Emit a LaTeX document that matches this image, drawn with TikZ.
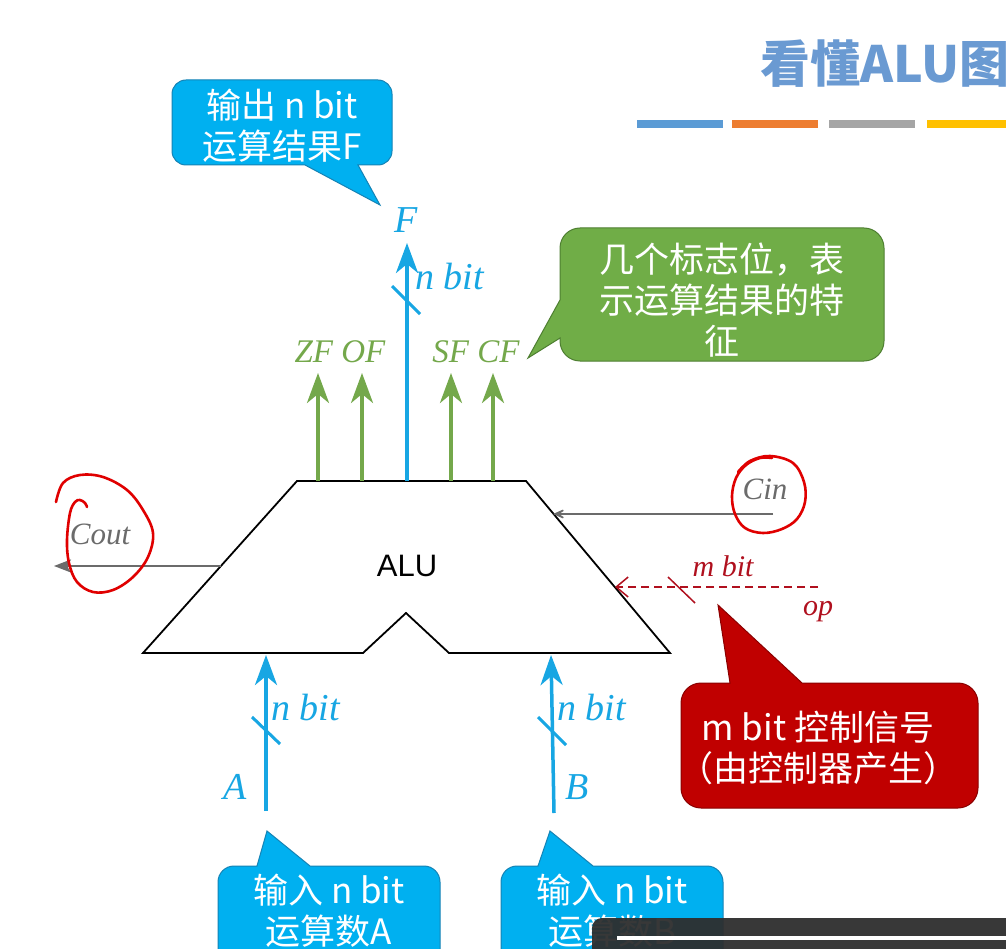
\documentclass[tikz,border=0pt]{standalone}
\usepackage{fontspec}
\setmainfont{Liberation Serif}
\newfontfamily\cjk{Noto Sans CJK SC}
\newfontfamily\lsans{Liberation Sans}
\usetikzlibrary{arrows.meta}

\definecolor{busblue}{HTML}{17A6E3}
\definecolor{calloutblue}{HTML}{00B0F0}
\definecolor{calloutblueedge}{HTML}{1583B5}
\definecolor{flaggreen}{HTML}{74A84B}
\definecolor{calloutgreen}{HTML}{70AD47}
\definecolor{calloutgreenedge}{HTML}{4E7F31}
\definecolor{ctrlred}{HTML}{C00000}
\definecolor{ctrlrededge}{HTML}{8A0000}
\definecolor{oplabel}{HTML}{B0101E}
\definecolor{carrygray}{HTML}{6B6B6B}
\definecolor{inkred}{HTML}{E00000}
\definecolor{titleblue}{HTML}{6A9AD2}
\definecolor{barblue}{HTML}{5B9BD5}
\definecolor{barorange}{HTML}{ED7D31}
\definecolor{bargray}{HTML}{A5A5A5}
\definecolor{baryellow}{HTML}{FFC000}

\begin{document}
\begin{tikzpicture}[x=1pt,y=-1pt,
  bus/.style={busblue, line width=3.5pt, -{Stealth[length=30pt,width=22pt,inset=9pt]}},
  flag/.style={flaggreen, line width=3.5pt, -{Stealth[length=30pt,width=22pt,inset=9pt]}},
  slashmark/.style={line width=3pt},
  buslabel/.style={text=busblue, font=\fontsize{38}{38}\selectfont\itshape, inner sep=0pt},
  flaglabel/.style={text=flaggreen, font=\fontsize{33}{33}\selectfont\itshape, inner sep=0pt},
  carry/.style={carrygray, line width=2pt},
  carrylabel/.style={text=carrygray, font=\fontsize{31}{31}\selectfont\itshape, inner sep=0pt},
  oplab/.style={text=oplabel, font=\fontsize{30}{30}\selectfont\itshape, inner sep=0pt},
  calltext/.style={text=white, font=\cjk\fontsize{35}{41}\selectfont, align=center, inner sep=0pt},
  bluecall/.style={fill=calloutblue, draw=calloutblueedge, line width=1pt},
  greencall/.style={fill=calloutgreen, draw=calloutgreenedge, line width=1pt},
  redcall/.style={fill=ctrlred, draw=ctrlrededge, line width=1pt},
  ink/.style={inkred, line width=2.6pt, line cap=round, line join=round},
]
\clip (0,0) rectangle (1006,949);
\fill[white] (0,0) rectangle (1006,949);

% heading and colour strip
\node[anchor=west, text=titleblue, font=\cjk\bfseries\fontsize{50}{50}\selectfont, inner sep=0pt] (title) at (760,64) {看懂ALU图};
\fill[barblue]   (637,120) rectangle (723,128);
\fill[barorange] (732,120) rectangle (818,128);
\fill[bargray]   (829,120) rectangle (915,128);
\fill[baryellow] (927,120) rectangle (1006,128);

% ALU body with the notch between the two operand inputs
\draw[line width=1.8pt, fill=white] (297,481) -- (526,481) -- (670,653) -- (449,653) -- (406,613) -- (363,653) -- (143,653) -- cycle;
\node[font=\lsans\fontsize{31}{31}\selectfont, inner sep=0pt] (alu) at (407,566) {ALU};

% ports on the ALU outline
\coordinate (zfport) at (318,481);
\coordinate (ofport) at (362,481);
\coordinate (fport)  at (407,481);
\coordinate (sfport) at (451,481);
\coordinate (cfport) at (493,481);
\coordinate (aport)  at (266,655);
\coordinate (bport)  at (551,655);
\coordinate (coutport) at (221,566);
\coordinate (cinport)  at (553,514);
\coordinate (opport)   at (615,587);

% free ends of the signals
\coordinate (ftip)  at (407,243);
\coordinate (zftip) at (318,373);
\coordinate (oftip) at (362,373);
\coordinate (sftip) at (451,373);
\coordinate (cftip) at (493,373);
\coordinate (asrc)  at (266,811);
\coordinate (bsrc)  at (554,813);
\coordinate (coutend) at (54,566);
\coordinate (cinsrc)  at (773,514);
\coordinate (opsrc)   at (818,587);

% result bus and flags
\draw[bus] (fport) -- (ftip);
\draw[busblue, slashmark] (392,286) -- (420,314);
\node[buslabel] (flabel) at (406,220) {F};
\node[buslabel, anchor=west] (fwidth) at (415,277) {n bit};

\draw[flag] (zfport) -- (zftip);
\draw[flag] (ofport) -- (oftip);
\draw[flag] (sfport) -- (sftip);
\draw[flag] (cfport) -- (cftip);
\node[flaglabel] (zfof) at (340,352) {ZF OF};
\node[flaglabel] (sfcf) at (476,352) {SF CF};

% operand buses
\draw[bus] (asrc) -- (aport);
\draw[busblue, slashmark] (252,717) -- (280,744);
\node[buslabel, anchor=west] (awidth) at (271,707) {n bit};
\node[buslabel] (alabel) at (235,787) {A};

\draw[bus] (bsrc) -- (bport);
\draw[busblue, slashmark] (538,717) -- (566,745);
\node[buslabel, anchor=west] (bwidth) at (557,707) {n bit};
\node[buslabel] (blabel) at (577,787) {B};

% carries
\draw[carry, -{Stealth[length=17pt,width=13pt,inset=4pt]}] (coutport) -- (coutend);
\node[carrylabel] (coutlabel) at (100,534) {Cout};
\draw[carry, -{Stealth[length=18pt,width=16pt,inset=12pt]}] (cinsrc) -- (cinport);
\node[carrylabel] (cinlabel) at (765,489) {Cin};

% operation select
\draw[oplabel, line width=1.5pt, dashed, dash pattern=on 8pt off 5pt, -{Straight Barb[length=12pt,width=20pt]}] (opsrc) -- (opport);
\draw[oplabel, line width=1.5pt] (668,577) -- (695,603);
\node[oplab] (mwidth) at (723,566) {m bit};
\node[oplab] (oplbl) at (818,612) {op};

% hand-drawn rings
\draw[ink] plot[smooth, tension=0.6] coordinates {(56,502) (63,483) (80,475) (103,477) (127,490) (143,510) (153,533) (148,557) (133,577) (113,590) (93,592) (77,582) (69,563) (67,540) (70,513) (75,502) (80,500) (85,503) (87,507)};
\draw[ink] plot[smooth, tension=0.6] coordinates {(738,472) (750,461) (770,456) (793,463) (804,482) (805,502) (797,519) (782,529) (763,533) (745,528) (735,514) (732,496) (736,478) (746,465) (760,458) (772,458)};

% callouts
\filldraw[bluecall] (380,205) -- (305,165) [rounded corners=14pt] -- (172,165) -- (172,80) -- (392,80) -- (392,165) [sharp corners] -- (358,165) -- cycle;
\node[calltext] (outnote) at (282,126) {输出 n bit\\运算结果F};

\filldraw[greencall] (528,358) -- (560,338) [rounded corners=20pt] -- (560,361) -- (884,361) -- (884,228) -- (560,228) [sharp corners] -- (560,300) -- cycle;
\node[calltext] (flagnote) at (722,300) {几个标志位，表\\示运算结果的特\\征};

\filldraw[redcall] (718,605) -- (802,683) [rounded corners=20pt] -- (978,683) -- (978,808) -- (681,808) -- (681,683) [sharp corners] -- (730,683) -- cycle;
\node[calltext] (ctrlnote) at (818,748) {m bit 控制信号\\（由控制器产生）};

\filldraw[bluecall] (267,831) -- (310,866) [rounded corners=16pt] -- (440,866) -- (440,990) -- (218,990) -- (218,866) [sharp corners] -- (257,866) -- cycle;
\node[calltext] (anote) at (329,911) {输入 n bit\\运算数A};

\filldraw[bluecall] (550,831) -- (593,866) [rounded corners=16pt] -- (723,866) -- (723,990) -- (501,990) -- (501,866) [sharp corners] -- (538,866) -- cycle;
\node[calltext] (bnote) at (612,911) {输入 n bit\\运算数B};

% player bar across the lower right corner
\fill[black!82, opacity=0.95, rounded corners=10pt] (592,918) rectangle (1040,990);
\draw[white, line width=3.5pt] (617,938) -- (1006,938);
\end{tikzpicture}
\end{document}
